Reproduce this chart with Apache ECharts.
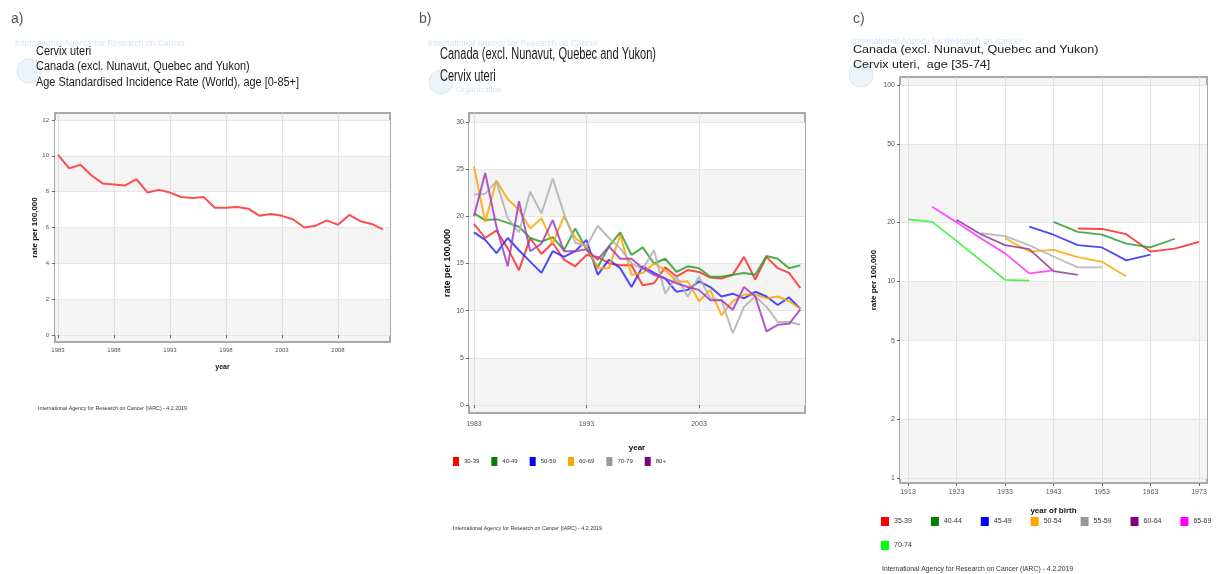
<!DOCTYPE html>
<html><head><meta charset="utf-8">
<script src="https://cdn.jsdelivr.net/npm/echarts@6/dist/echarts.min.js"></script>
<style>html,body{margin:0;padding:0;background:#fff}#c{width:1222px;height:574px}</style>
</head><body><div id="c"></div>
<script>
// ---------- data ----------
const years = [1983,1984,1985,1986,1987,1988,1989,1990,1991,1992,1993,1994,1995,1996,1997,1998,1999,2000,2001,2002,2003,2004,2005,2006,2007,2008,2009,2010,2011,2012];
const asrA = [10.05,9.3,9.5,8.9,8.45,8.4,8.35,8.7,7.95,8.1,7.95,7.7,7.65,7.7,7.1,7.1,7.15,7.05,6.65,6.75,6.65,6.45,6.0,6.1,6.4,6.15,6.7,6.35,6.2,5.9];
const ticksAx = [1983,1988,1993,1998,2003,2008];
const ticksAy = [0,2,4,6,8,10,12];

const namesB = ['30-39','40-49','50-59','60-69','70-79','80+'];
const b30 = [19.2,17.7,18.5,16.6,14.3,17.7,16.0,17.2,15.4,14.7,15.9,15.7,15.0,14.8,14.8,12.7,12.9,14.6,13.6,14.3,14.1,13.5,13.4,13.8,15.7,13.3,15.7,14.5,14.0,12.4];
const b40 = [20.3,19.6,19.7,19.3,18.9,17.7,17.3,17.8,16.4,18.7,16.5,14.6,16.8,18.3,15.9,16.7,15.0,15.5,14.1,14.7,14.5,13.6,13.6,13.8,14.0,13.8,15.8,15.5,14.5,14.8];
const b50 = [18.3,17.5,16.1,17.7,16.4,15.2,14.0,16.3,15.7,16.3,17.5,13.8,15.4,14.5,12.5,14.7,14.0,13.4,12.0,12.2,13.1,12.5,11.5,11.8,11.3,12.0,11.5,10.6,11.4,10.2];
const b60 = [25.3,19.4,23.8,21.8,20.7,18.7,19.8,17.1,20.0,17.7,16.8,14.5,14.5,18.0,13.8,14.0,15.0,14.3,13.1,13.1,11.0,12.2,9.5,11.0,11.7,11.7,11.3,11.5,11.0,10.2];
const b70 = [22.3,22.4,23.7,19.8,18.3,22.6,20.3,24.0,20.3,17.2,16.8,19.0,17.7,16.6,15.0,14.4,16.4,11.8,13.6,11.5,13.6,11.3,11.1,7.6,10.4,11.5,10.4,8.8,8.8,8.5];
const b80 = [20.0,24.6,18.9,14.7,21.6,16.3,17.1,19.6,16.3,16.3,16.5,15.4,16.8,15.5,15.5,14.5,13.8,13.4,12.9,12.5,12.2,11.1,11.1,10.1,12.5,11.5,7.8,8.5,8.6,10.1];
const ticksBx = [1983,1993,2003];
const ticksBy = [0,5,10,15,20,25,30];

const namesC = ['35-39','40-44','45-49','50-54','55-59','60-64','65-69','70-74'];
const yrC35 = [1948,1953,1958,1963,1968,1973], c35 = [18.6,18.5,17.4,14.2,14.7,15.9];
const yrC40 = [1943,1948,1953,1958,1963,1968], c40 = [20.1,17.9,17.3,15.6,14.9,16.5];
const yrC45 = [1938,1943,1948,1953,1958,1963], c45 = [19.0,17.3,15.3,14.9,12.8,13.7];
const yrC50 = [1933,1938,1943,1948,1953,1958], c50 = [16.6,14.2,14.5,13.3,12.6,10.6];
const yrC55 = [1928,1933,1938,1943,1948,1953], c55 = [17.6,17.0,15.3,13.4,11.8,11.8];
const yrC60 = [1923,1928,1933,1938,1943,1948], c60 = [20.6,17.4,15.3,14.6,11.3,10.8];
const yrC65 = [1918,1923,1928,1933,1938,1943], c65 = [24.0,20.0,16.6,13.9,11.0,11.4];
const yrC70 = [1913,1918,1923,1928,1933,1938], c70 = [20.7,20.1,16.1,12.8,10.2,10.1];
const ticksCx = [1913,1923,1933,1943,1953,1963,1973];
const ticksCy = [1,2,5,10,20,50,100];

// ---------- helpers ----------
const FF = 'Liberation Sans, Arial, sans-serif';
const pairs = (xs, ys) => xs.map((x, i) => [x, ys[i]]);
function xAxis(gi, min, max, ticks, name, fs, margin, gap, nfs) {
  return {gridIndex: gi, type: 'value', min, max, name, nameLocation: 'middle', nameGap: gap,
    nameTextStyle: {fontSize: nfs, fontWeight: 'bold', color: '#111', fontFamily: FF},
    axisLine: {show: false},
    axisTick: {show: true, length: 3, customValues: ticks, lineStyle: {color: '#666'}},
    axisLabel: {customValues: ticks, fontSize: fs, color: '#555', margin, fontFamily: FF, formatter: v => String(v)},
    splitLine: {show: true, lineStyle: {color: '#e0e0e0', width: 1}}};
}
function yAxis(gi, type, min, max, ticks, fs, margin, gap, nfs) {
  const ax = {gridIndex: gi, type, min, max, name: 'rate per 100,000', nameLocation: 'middle', nameGap: gap,
    nameTextStyle: {fontSize: nfs, fontWeight: 'bold', color: '#111', fontFamily: FF},
    axisLine: {show: false},
    axisTick: {show: true, length: 3, customValues: ticks, lineStyle: {color: '#666'}},
    axisLabel: {customValues: ticks, fontSize: fs, color: '#555', margin, fontFamily: FF, formatter: v => String(v)},
    splitLine: {show: true, lineStyle: {color: '#e6e6e6', width: 1}},
    splitArea: {show: true, areaStyle: {color: ['#f4f4f4', '#ffffff']}}};
  if (type === 'log') ax.logBase = 10;
  return ax;
}
function line(name, gi, data, color, width, opacity) {
  return {name, type: 'line', xAxisIndex: gi, yAxisIndex: gi, data, showSymbol: false, symbol: 'none',
    color, lineStyle: {color, width, opacity}, silent: true, animation: false, z: 3};
}
function txt(x, y, s, size, fill, opts) {
  return Object.assign({type: 'text', x, y, silent: true,
    style: {text: s, fontSize: size, fill, fontFamily: FF, verticalAlign: 'middle'}}, opts || {});
}

const gridStyle = {show: true, backgroundColor: '#f4f4f4', borderColor: '#a8a8a8', borderWidth: 2};
const colB = ['#ff2a2a', '#2ca02c', '#2a2aff', '#ffa500', '#b0b0b0', '#a23cc0'];
const legB = ['#ff0000', '#008000', '#0000ff', '#ffa500', '#999999', '#800080'];
const colC = ['#ff2020', '#2e9a2e', '#2a2aff', '#ffa500', '#b0b0b0', '#8e3a96', '#ff30ff', '#30f030'];
const legC = ['#ff0000', '#008000', '#0000ff', '#ffa500', '#999999', '#800080', '#ff00ff', '#00ff00'];
const bSeries = [b30, b40, b50, b60, b70, b80];
const cYears = [yrC35, yrC40, yrC45, yrC50, yrC55, yrC60, yrC65, yrC70];
const cVals = [c35, c40, c45, c50, c55, c60, c65, c70];

const series = [line('ASR', 0, pairs(years, asrA), '#ff4d4d', 2, 1)];
namesB.forEach((n, i) => series.push(line(n, 1, pairs(years, bSeries[i]), colB[i], 2, 0.85)));
namesC.forEach((n, i) => series.push(line(n, 2, pairs(cYears[i], cVals[i]), colC[i], 1.8, 0.85)));

const footer = 'International Agency for Research on Cancer (IARC) - 4.2.2019';
const wm = 'International Agency for Research on Cancer';
const graphic = [
  // panel letters
  txt(11, 19, 'a)', 14, '#555'), txt(419, 19, 'b)', 14, '#555'), txt(853, 19, 'c)', 14, '#555'),
  // faint watermarks
  txt(15, 44, wm, 8.5, '#d3e4f3'),
  {type: 'circle', shape: {cx: 29, cy: 71, r: 12}, silent: true, style: {fill: 'rgba(200,222,242,0.35)', stroke: '#d8e8f5', lineWidth: 1}},
  txt(428, 44, wm, 8.5, '#d3e4f3'),
  {type: 'circle', shape: {cx: 441, cy: 82, r: 12}, silent: true, style: {fill: 'rgba(200,222,242,0.35)', stroke: '#d8e8f5', lineWidth: 1}},
  txt(456, 90, 'Organization', 8, '#d3e4f3'),
  txt(852, 42, wm, 8.5, '#d3e4f3'),
  {type: 'circle', shape: {cx: 861, cy: 75, r: 12}, silent: true, style: {fill: 'rgba(200,222,242,0.35)', stroke: '#d8e8f5', lineWidth: 1}},
  // titles a
  txt(36, 52, 'Cervix uteri', 12, '#1a1a1a', {scaleX: 0.91}),
  txt(36, 67, 'Canada (excl. Nunavut, Quebec and Yukon)', 12, '#1a1a1a', {scaleX: 0.91}),
  txt(36, 83, 'Age Standardised Incidence Rate (World), age [0-85+]', 12, '#1a1a1a', {scaleX: 0.91}),
  // titles b
  txt(440, 55, 'Canada (excl. Nunavut, Quebec and Yukon)', 16, '#1a1a1a', {scaleX: 0.69}),
  txt(440, 77, 'Cervix uteri', 16, '#1a1a1a', {scaleX: 0.69}),
  // titles c
  txt(853, 50, 'Canada (excl. Nunavut, Quebec and Yukon)', 11, '#1a1a1a', {scaleX: 1.14}),
  txt(853, 65, 'Cervix uteri,  age [35-74]', 11, '#1a1a1a', {scaleX: 1.14}),
  // footers
  txt(38, 409, footer, 5.3, '#333'),
  txt(453, 529, footer, 5.3, '#333'),
  txt(882, 569, footer, 6.8, '#333')
];

const legendBase = {orient: 'horizontal', icon: 'rect', selectedMode: false, padding: 0,
  textStyle: {fontFamily: FF, color: '#333'}};
const option = {
  animation: false,
  backgroundColor: '#ffffff',
  textStyle: {fontFamily: FF},
  grid: [
    Object.assign({left: 55, top: 113, width: 335, height: 229}, gridStyle),
    Object.assign({left: 469, top: 113, width: 336, height: 300}, gridStyle),
    Object.assign({left: 900, top: 77, width: 307, height: 406}, gridStyle)
  ],
  xAxis: [
    xAxis(0, 1982.73, 2012.64, ticksAx, 'year', 6, 5, 22, 7),
    xAxis(1, 1982.56, 2012.42, ticksBx, 'year', 7, 8, 31, 8),
    xAxis(2, 1911.35, 1974.65, ticksCx, 'year of birth', 7, 6, 24, 8)
  ],
  yAxis: [
    yAxis(0, 'value', -0.39, 12.39, ticksAy, 6, 6, 15, 8),
    yAxis(1, 'value', -0.85, 30.95, ticksBy, 7, 5, 13, 9),
    yAxis(2, 'log', 0.943, 109.8, ticksCy, 7, 5, 22, 8)
  ],
  legend: [
    Object.assign({}, legendBase, {left: 453, top: 457, itemWidth: 6, itemHeight: 9, itemGap: 12,
      textStyle: Object.assign({}, legendBase.textStyle, {fontSize: 6}),
      data: namesB.map((n, i) => ({name: n, itemStyle: {color: legB[i]}}))}),
    Object.assign({}, legendBase, {left: 881, top: 517, itemWidth: 8, itemHeight: 9, itemGap: 19,
      textStyle: Object.assign({}, legendBase.textStyle, {fontSize: 7}),
      data: namesC.slice(0, 7).map((n, i) => ({name: n, itemStyle: {color: legC[i]}}))}),
    Object.assign({}, legendBase, {left: 881, top: 541, itemWidth: 8, itemHeight: 9, itemGap: 19,
      textStyle: Object.assign({}, legendBase.textStyle, {fontSize: 7}),
      data: namesC.slice(7).map((n, i) => ({name: n, itemStyle: {color: legC[7 + i]}}))})
  ],
  graphic,
  series
};
const chart = echarts.init(document.getElementById('c'), null, {renderer: 'canvas'});
chart.setOption(option);
</script></body></html>
